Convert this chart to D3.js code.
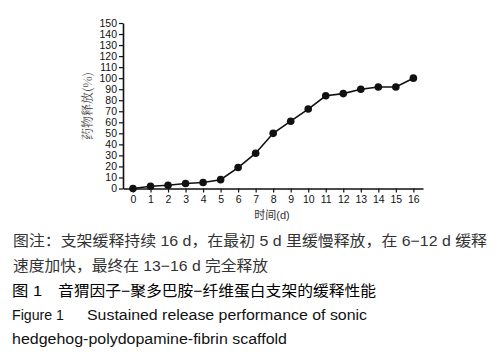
<!DOCTYPE html>
<html>
<head>
<meta charset="utf-8">
<script src="https://cdn.jsdelivr.net/npm/d3@7"></script>
<style>
  body { margin: 0; background: #fff; }
  svg { display: block; }
</style>
</head>
<body>
<svg id="chart" width="497" height="355"></svg>
<script>
// days and cumulative release (%)
const days = [0, 1, 2, 3, 4, 5, 6, 7, 8, 9, 10, 11, 12, 13, 14, 15, 16];
const release = [0, 2, 3, 4.5, 5.5, 8, 19, 32, 50, 61, 72, 84, 86, 90, 92, 92, 100];
const yTicks = d3.range(0, 151, 10);
const xLabel = '时间(d)';
const yLabel = '药物释放(%)';
const captionSegments = [
    ['图注：支架缓释持续 16 d，在最初 5 d 里缓慢释放，在 6−12 d 缓释'],
    ['速度加快，最终在 13−16 d 完全释放'],
    ['图 1', '音猬因子−聚多巴胺−纤维蛋白支架的缓释性能'],
    ['Figure 1', 'Sustained release performance of sonic'],
    ['hedgehog-polydopamine-fibrin scaffold']
];

const svg = d3.select('#chart');
const font = 'Liberation Sans, Arial, "Noto Sans CJK SC", sans-serif';

// plot box
const x = d3.scaleLinear().domain([-0.57, 16.55]).range([123, 423]);
const y = d3.scaleLinear().domain([0, 150]).range([188.5, 23]);

// y axis
const yAxis = svg.append('g')
    .attr('transform', `translate(${x(-0.57)},0)`)
    .call(d3.axisLeft(y).tickValues(yTicks).tickSize(4).tickSizeOuter(0));
yAxis.select('.domain').attr('stroke', '#111').attr('stroke-width', 1.6);
yAxis.selectAll('.tick line').attr('stroke', '#111').attr('stroke-width', 1.2);
yAxis.selectAll('.tick text')
    .attr('x', -6)
    .attr('font-family', font)
    .attr('font-size', 10.5)
    .attr('fill', '#111');

// x axis
const xAxis = svg.append('g')
    .attr('transform', `translate(0,${y(0)})`)
    .call(d3.axisBottom(x).tickValues(days).tickFormat(d3.format('d')).tickSize(4).tickSizeOuter(0));
xAxis.select('.domain').attr('stroke', '#111').attr('stroke-width', 1.6);
xAxis.selectAll('.tick line').attr('stroke', '#111').attr('stroke-width', 1.2);
xAxis.selectAll('.tick text')
    .attr('y', 7)
    .attr('font-family', font)
    .attr('font-size', 10.5)
    .attr('fill', '#111');

// line + markers
const pts = days.map((d, i) => ({ day: d, val: release[i] }));
svg.append('path')
    .datum(pts)
    .attr('fill', 'none')
    .attr('stroke', '#111')
    .attr('stroke-width', 1.6)
    .attr('d', d3.line().x(d => x(d.day)).y(d => y(d.val)));

svg.append('g')
    .selectAll('circle')
    .data(pts)
    .enter()
    .append('circle')
    .attr('cx', d => x(d.day))
    .attr('cy', d => y(d.val))
    .attr('r', 3.8)
    .attr('fill', '#111');

// axis titles
svg.append('text')
    .attr('x', 272)
    .attr('y', 219)
    .attr('text-anchor', 'middle')
    .attr('font-family', font)
    .attr('font-size', 11)
    .attr('fill', '#333')
    .text(xLabel);

svg.append('text')
    .attr('transform', 'translate(92,106) rotate(-90)')
    .attr('text-anchor', 'middle')
    .attr('font-family', '"Noto Serif CJK SC", "Noto Sans CJK SC", serif')
    .attr('font-size', 12)
    .attr('fill', '#444')
    .text(yLabel);

// caption: [start x, end x] for each segment, baseline per line
const capLayout = [
    { y: 246, size: 15, fill: '#333', spans: [[13, 487]] },
    { y: 271, size: 15, fill: '#333', spans: [[13, 268]] },
    { y: 296, size: 15, fill: '#000', spans: [[12, 42], [58, 376]] },
    { y: 320, size: 15.5, fill: '#111', spans: [[12, 64], [87, 367]] },
    { y: 344, size: 15.5, fill: '#111', spans: [[12, 287]] }
];

captionSegments.forEach((segs, i) => {
    const L = capLayout[i];
    segs.forEach((s, j) => {
        const [x0, x1] = L.spans[j];
        svg.append('text')
            .attr('x', x0)
            .attr('y', L.y)
            .attr('font-family', font)
            .attr('font-size', L.size)
            .attr('fill', L.fill)
            .attr('textLength', x1 - x0)
            .attr('lengthAdjust', 'spacingAndGlyphs')
            .text(s);
    });
});
</script>
</body>
</html>
